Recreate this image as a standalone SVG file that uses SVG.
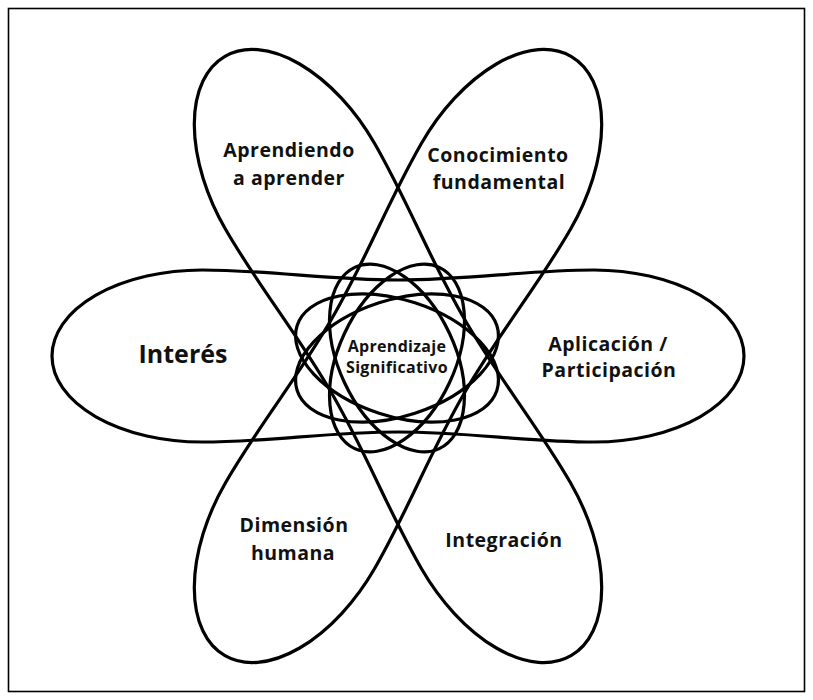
<svg xmlns="http://www.w3.org/2000/svg" width="813" height="700" viewBox="0 0 813 700">
  <defs>
    <style>
      .loop { fill: none; stroke: #000; stroke-width: 3.2; stroke-linejoin: round; }
      .orb { fill: none; stroke: #000; stroke-width: 3.2; }
      .lbl { font-family: "Open Sans", "Noto Sans", "DejaVu Sans", sans-serif; font-weight: 700; fill: #111; text-anchor: middle; }
      .big { font-size: 25px; }
      .mid { font-size: 19.5px; letter-spacing: 0.5px; }
      .ctr { font-size: 16px; letter-spacing: 0.3px; }
    </style>
    <path id="loopShape" d="M -196,-86 C -130,-86 -70,-76 0,-76 S 130,-86 196,-86 A 150 86 0 0 1 196,86 C 130,86 70,76 0,76 S -130,86 -196,86 A 150 86 0 0 1 -196,-86 Z"/>
  </defs>
  <rect x="0" y="0" width="813" height="700" fill="#fff"/>
  <rect x="8.5" y="8.5" width="796" height="683" fill="none" stroke="#000" stroke-width="1.6"/>

  <g id="connectors">
    <use href="#loopShape" class="loop" transform="translate(398,356)"/>
    <use href="#loopShape" class="loop" transform="translate(398,356) rotate(-60)"/>
    <use href="#loopShape" class="loop" transform="translate(398,356) rotate(60)"/>
  </g>

  <g id="center">
    <ellipse class="orb" cx="0" cy="0" rx="58" ry="100" transform="translate(397,358) rotate(25)"/>
    <ellipse class="orb" cx="0" cy="0" rx="58" ry="100" transform="translate(397,358) rotate(-25)"/>
    <ellipse class="orb" cx="0" cy="0" rx="105" ry="58" transform="translate(397,358) rotate(18)"/>
    <ellipse class="orb" cx="0" cy="0" rx="105" ry="58" transform="translate(397,358) rotate(-18)"/>
    <text class="lbl ctr" x="397" y="352">Aprendizaje</text>
    <text class="lbl ctr" x="397" y="373">Significativo</text>
  </g>

  <g id="interes">
    <text class="lbl big" x="183" y="363">Interés</text>
  </g>
  <g id="aplicacion">
    <text class="lbl mid" x="608" y="351">Aplicación /</text>
    <text class="lbl mid" x="609" y="377">Participación</text>
  </g>
  <g id="aprendiendo">
    <text class="lbl mid" x="289" y="157">Aprendiendo</text>
    <text class="lbl mid" x="289" y="185">a aprender</text>
  </g>
  <g id="conocimiento">
    <text class="lbl mid" x="498" y="162">Conocimiento</text>
    <text class="lbl mid" x="499" y="189">fundamental</text>
  </g>
  <g id="dimension">
    <text class="lbl mid" x="294" y="532">Dimensión</text>
    <text class="lbl mid" x="293" y="560">humana</text>
  </g>
  <g id="integracion">
    <text class="lbl mid" x="504" y="547">Integración</text>
  </g>
</svg>
